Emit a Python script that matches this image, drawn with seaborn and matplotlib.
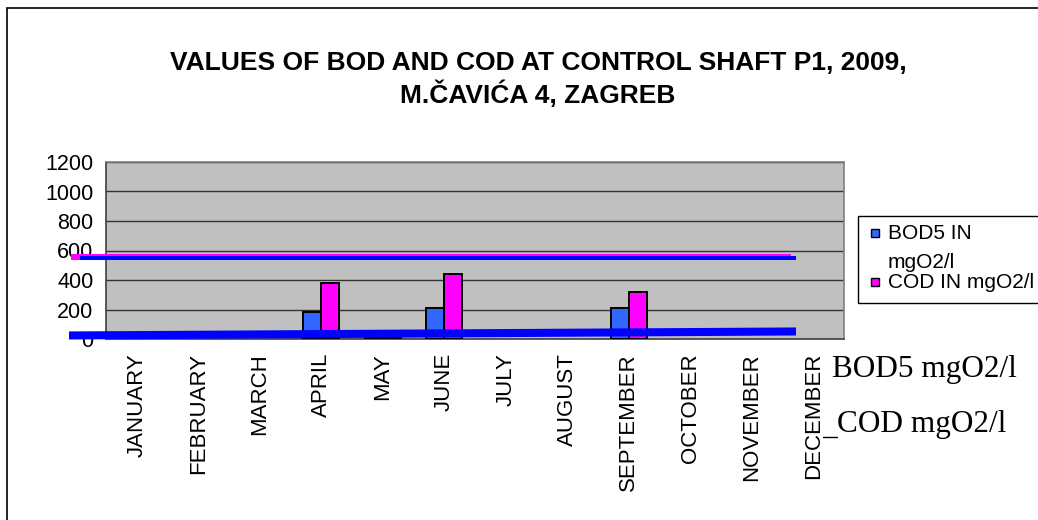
import numpy as np
import pandas as pd
import matplotlib
matplotlib.use("Agg")
import matplotlib.pyplot as plt
import seaborn as sns
from matplotlib.patches import Rectangle
from matplotlib.lines import Line2D

# ---------------- data ----------------
months = ["JANUARY", "FEBRUARY", "MARCH", "APRIL", "MAY", "JUNE", "JULY",
          "AUGUST", "SEPTEMBER", "OCTOBER", "NOVEMBER", "DECEMBER"]
bod5 = [None, None, None, 185, 5, 212, None, None, 212, None, None, None]
cod = [None, None, None, 377, 8, 440, None, None, 316, None, None, None]
series_names = ["BOD5 IN\nmgO2/l", "COD IN mgO2/l"]
series_colors = ["#3366FF", "#FF00FF"]
y_ticks = [0, 200, 400, 600, 800, 1000, 1200]
upper_line_pink = 556
upper_line_blue = 547
lower_line_blue = [24, 51]
line_labels = ["BOD5 mgO2/l", "COD mgO2/l"]
title_lines = ["VALUES OF BOD AND COD AT CONTROL SHAFT P1, 2009,", "M.ČAVIĆA 4, ZAGREB"]

# ---------------- figure ----------------
W, H = 1038, 520
sns.set_style("white")
plt.rcParams["font.family"] = ["Liberation Sans", "DejaVu Sans"]
plt.rcParams.update({"text.color": "black", "xtick.color": "black",
                     "ytick.color": "black", "axes.labelcolor": "black"})

fig = plt.figure(figsize=(W / 100, H / 100), dpi=100)
fig.patch.set_facecolor("white")

def fx(px):
    return px / W

def fy(py):
    return 1 - py / H

# outer chart border (extends past right/bottom edge)
fig.patches.append(Rectangle((fx(7), -0.05), 1.2, fy(8) + 0.05, transform=fig.transFigure,
                             fill=False, edgecolor="black", linewidth=1.2))

ax = fig.add_axes([fx(106), fy(339), 738 / W, 177 / H])
ax.set_facecolor("#C0C0C0")

rows = []
for m, b, c in zip(months, bod5, cod):
    if b is not None:
        rows.append({"month": m, "series": series_names[0], "value": b})
    if c is not None:
        rows.append({"month": m, "series": series_names[1], "value": c})
df = pd.DataFrame(rows)

sns.barplot(data=df, x="month", y="value", hue="series", order=months,
            hue_order=series_names, palette=series_colors, width=0.58,
            edgecolor="black", linewidth=1.4, saturation=1, errorbar=None,
            legend=False, ax=ax, zorder=3)

ax.set_xlim(-0.5, 11.5)
ax.set_ylim(0, 1200)
ax.set_yticks(y_ticks)
ax.set_yticklabels([str(v) for v in y_ticks], fontsize=15.5, color="black")
ax.set_xlabel("")
ax.set_ylabel("")
ax.yaxis.grid(True, color="#333333", linewidth=1.0)
ax.xaxis.grid(False)
ax.set_axisbelow(True)

ax.set_xticks(range(len(months)))
ax.set_xticklabels(months, rotation=90, fontsize=16, color="black")
ax.set_xticks(np.arange(-0.5, len(months), 1), minor=True)
ax.tick_params(axis="x", which="major", length=0, pad=10)
ax.tick_params(axis="x", which="minor", length=5, width=1, color="#404040", direction="out")
ax.tick_params(axis="y", length=5, width=1, color="#404040", direction="out", pad=4)

for s in ["top", "right"]:
    ax.spines[s].set_color("#808080")
    ax.spines[s].set_linewidth(1.2)
for s in ["left", "bottom"]:
    ax.spines[s].set_color("#404040")
    ax.spines[s].set_linewidth(1.2)
    ax.spines[s].set_visible(True)

# drawn lines over chart
tr = ax.get_yaxis_transform()
ax.plot([(71 - 106) / 738, (791 - 106) / 738], [upper_line_pink, upper_line_pink],
        color="#FF00FF", linewidth=4.3, solid_capstyle="butt", transform=tr,
        clip_on=False, zorder=10)
ax.plot([(80 - 106) / 738, (796 - 106) / 738], [upper_line_blue, upper_line_blue],
        color="#0000FF", linewidth=2.9, solid_capstyle="butt", transform=tr,
        clip_on=False, zorder=11)
ax.plot([(69 - 106) / 738, (796 - 106) / 738], lower_line_blue,
        color="#0000FF", linewidth=5.8, solid_capstyle="butt", transform=tr,
        clip_on=False, zorder=11)

# title
fig.text(fx(538), fy(70), title_lines[0], ha="center", va="baseline",
         fontsize=19, fontweight="bold", color="black")
fig.text(fx(538), fy(103), title_lines[1], ha="center", va="baseline",
         fontsize=19, fontweight="bold", color="black")

# legend box
fig.patches.append(Rectangle((fx(858), fy(303)), 0.3, (303 - 216) / H, transform=fig.transFigure,
                             fill=True, facecolor="white", edgecolor="black", linewidth=1.0))
for cy, col in zip([233, 282], series_colors):
    fig.patches.append(Rectangle((fx(871), fy(cy + 4)), 8 / W, 8 / H, transform=fig.transFigure,
                                 facecolor=col, edgecolor="black", linewidth=1.0))
fig.text(fx(888), fy(239), series_names[0].split("\n")[0], ha="left", va="baseline", fontsize=15)
fig.text(fx(888), fy(268), series_names[0].split("\n")[1], ha="left", va="baseline", fontsize=15)
fig.text(fx(888), fy(288), series_names[1], ha="left", va="baseline", fontsize=15)

# serif text annotations
fig.text(fx(832), fy(377), line_labels[0], ha="left", va="baseline", fontsize=22.5,
         family=["Liberation Serif", "DejaVu Serif"])
fig.text(fx(837), fy(432), line_labels[1], ha="left", va="baseline", fontsize=22.5,
         family=["Liberation Serif", "DejaVu Serif"])
fig.lines.append(Line2D([fx(823), fx(837)], [fy(437), fy(437)], transform=fig.transFigure,
                        color="black", linewidth=1.0))

fig.savefig("out.png", dpi=100)
